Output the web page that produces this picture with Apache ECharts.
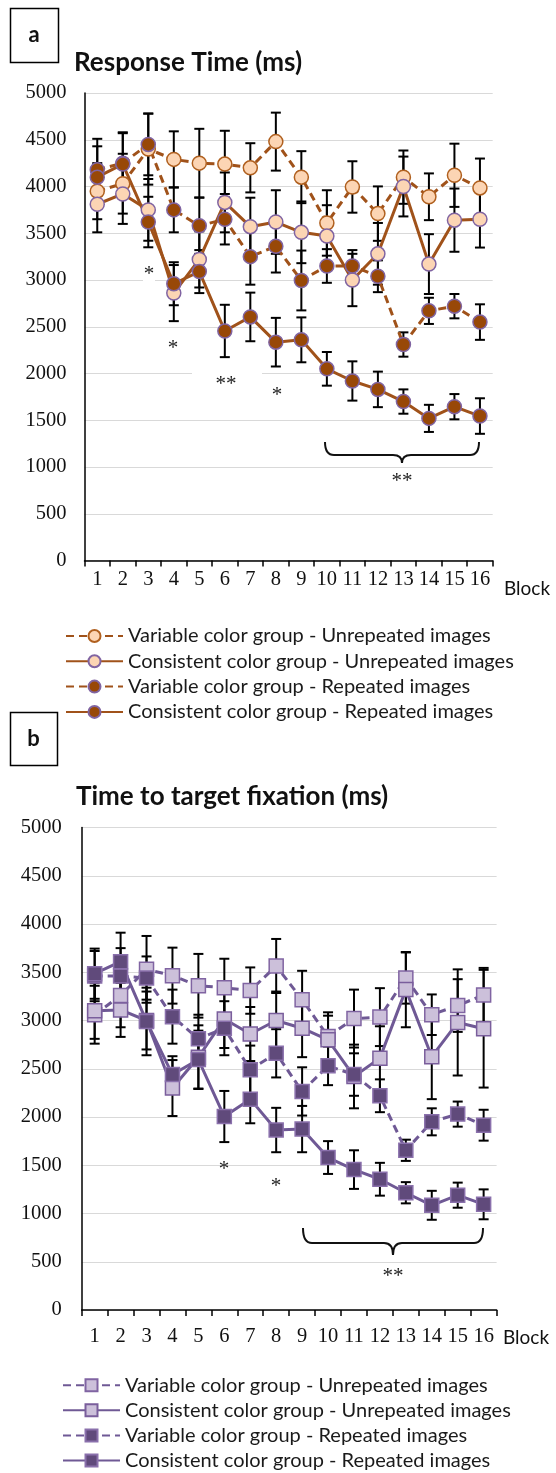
<!DOCTYPE html>
<html>
<head>
<meta charset="utf-8">
<script src="https://cdn.jsdelivr.net/npm/echarts@6/dist/echarts.min.js"></script>
<style>
  html, body { margin: 0; padding: 0; background: #fff; }
  #chart { width: 556px; height: 1473px; }
</style>
</head>
<body>
<div id="chart"></div>
<script>
const blocks = ['1','2','3','4','5','6','7','8','9','10','11','12','13','14','15','16']
const yTicks = [0, 5000, 500] // min, max, step

const seriesNames = [
  'Variable color group - Unrepeated images',
  'Consistent color group - Unrepeated images',
  'Variable color group - Repeated images',
  'Consistent color group - Repeated images'
]

// a: response time (ms)
const rtVarUnrep = [3950, 4030, 4400, 4290, 4250, 4240, 4200, 4480, 4100, 3610, 3995, 3710, 4100, 3890, 4120, 3985]
const rtConUnrep = [3810, 3920, 3750, 2860, 3220, 3830, 3570, 3620, 3510, 3470, 3000, 3280, 4000, 3170, 3640, 3650]
const rtVarRep   = [4180, 4250, 4450, 3750, 3580, 3650, 3250, 3360, 2995, 3150, 3150, 3040, 2310, 2670, 2720, 2550]
const rtConRep   = [4100, 4240, 3620, 2960, 3090, 2455, 2605, 2335, 2360, 2050, 1920, 1830, 1700, 1520, 1645, 1545]
const rtVarUnrepErr = [300, 320, 380, 300, 367, 356, 263, 310, 278, 350, 275, 291, 285, 250, 338, 314]
const rtConUnrepErr = [300, 320, 330, 300, 300, 320, 310, 340, 330, 330, 280, 330, 320, 320, 338, 303]
const rtVarRepErr   = [330, 330, 330, 240, 300, 270, 300, 280, 320, 180, 170, 170, 130, 140, 130, 190]
const rtConRepErr   = [330, 330, 270, 230, 230, 280, 260, 260, 240, 180, 210, 190, 130, 145, 135, 190]

// b: time to target fixation (ms)
const ttVarUnrep = [3060, 3260, 3530, 3465, 3360, 3340, 3310, 3565, 3215, 2835, 3020, 3035, 3440, 3060, 3155, 3265]
const ttConUnrep = [3100, 3110, 3000, 2300, 2620, 3015, 2860, 3000, 2920, 2800, 2420, 2610, 3320, 2625, 2980, 2915]
const ttVarRep   = [3460, 3460, 3440, 3040, 2810, 2920, 2490, 2660, 2265, 2530, 2440, 2220, 1655, 1950, 2030, 1915]
const ttConRep   = [3485, 3610, 2990, 2440, 2595, 2005, 2185, 1865, 1875, 1580, 1455, 1355, 1215, 1085, 1190, 1095]
const ttVarUnrepErr = [300, 330, 346, 290, 330, 300, 240, 280, 300, 250, 300, 300, 265, 210, 273, 280]
const ttConUnrepErr = [290, 280, 300, 290, 330, 300, 280, 300, 300, 250, 330, 330, 390, 440, 550, 610]
const ttVarRepErr   = [260, 290, 224, 280, 250, 280, 250, 250, 250, 200, 220, 170, 110, 140, 130, 160]
const ttConRepErr   = [260, 300, 350, 190, 300, 265, 250, 230, 240, 170, 200, 170, 110, 150, 130, 155]

const SERIF = '"Liberation Serif", serif'
const SANS = 'Lato, "Open Sans", sans-serif'

const brown = { line: '#A0521A', light: '#FCD5B4', dark: '#984807', edgeVar: '#B0601F', edgeCon: '#8064A2', edgeDark: '#8064A2' }
const purple = { line: '#6F5995', light: '#CCC0DA', dark: '#604A7B', edgeVar: '#8064A2', edgeCon: '#7A5E9C', edgeDark: '#8A70AC' }

function errorBars (vals, errs, axis) {
  return {
    type: 'custom',
    xAxisIndex: axis,
    yAxisIndex: axis,
    z: 1,
    silent: true,
    data: vals.map((v, i) => [i, v, errs[i]]),
    encode: { x: 0, y: 1 },
    renderItem: function (params, api) {
      const x = api.value(0), v = api.value(1), e = api.value(2)
      const hi = api.coord([x, v + e])
      const lo = api.coord([x, v - e])
      const st = { stroke: '#000', lineWidth: 2 }
      const w = 5
      return {
        type: 'group',
        children: [
          { type: 'line', shape: { x1: hi[0], y1: hi[1], x2: lo[0], y2: lo[1] }, style: st },
          { type: 'line', shape: { x1: hi[0] - w, y1: hi[1], x2: hi[0] + w, y2: hi[1] }, style: st },
          { type: 'line', shape: { x1: lo[0] - w, y1: lo[1], x2: lo[0] + w, y2: lo[1] }, style: st }
        ]
      }
    }
  }
}

function lineSeries (prefix, idx, vals, axis, pal, symbol, size) {
  const dashed = idx % 2 === 0
  const repeated = idx >= 2
  return {
    name: prefix + seriesNames[idx],
    type: 'line',
    xAxisIndex: axis,
    yAxisIndex: axis,
    data: vals,
    symbol: symbol,
    symbolSize: size,
    z: 3,
    lineStyle: { color: pal.line, width: 3, type: dashed ? [8, 5] : 'solid' },
    itemStyle: {
      color: repeated ? pal.dark : pal.light,
      borderColor: repeated ? pal.edgeDark : (dashed ? pal.edgeVar : pal.edgeCon),
      borderWidth: 1.5
    }
  }
}

function xAxis (grid, margin) {
  return {
    type: 'category',
    gridIndex: grid,
    data: blocks,
    boundaryGap: true,
    axisLine: { lineStyle: { color: '#000', width: 1.5 } },
    axisTick: { show: true, length: 6, lineStyle: { color: '#000', width: 1.5 } },
    axisLabel: { interval: 0, margin: margin, color: '#111', fontFamily: SERIF, fontSize: 20.5 },
    splitLine: { show: false }
  }
}

function yAxis (grid, margin) {
  return {
    type: 'value',
    gridIndex: grid,
    min: yTicks[0],
    max: yTicks[1],
    interval: yTicks[2],
    axisLine: { show: true, lineStyle: { color: '#000', width: 1.5 } },
    axisTick: { show: false },
    axisLabel: { margin: margin, color: '#111', fontFamily: SERIF, fontSize: 20.5, formatter: v => String(v) },
    splitLine: { lineStyle: { color: '#D9D9D9', width: 1 } }
  }
}

function legend (prefix, pos, gap, lh) {
  return Object.assign({
    data: seriesNames.map(n => prefix + n),
    orient: 'vertical',
    padding: 0,
    itemWidth: 57,
    itemHeight: 15,
    itemGap: gap,
    selectedMode: false,
    formatter: n => n.slice(prefix.length),
    textStyle: { fontFamily: SANS, fontSize: 20, lineHeight: lh, color: '#1a1a1a' }
  }, pos)
}

function txt (x, y, text, size, extra) {
  return {
    type: 'text', x: x, y: y, z: 10,
    style: Object.assign({ text: text, fill: '#111', fontFamily: SANS, fontSize: size, verticalAlign: 'middle' }, extra || {})
  }
}

function star (x, y, text) {
  return {
    type: 'text', x: x, y: y, z: 10,
    style: { text: text, fill: '#222', fontFamily: SERIF, fontSize: 21, align: 'center', verticalAlign: 'middle' }
  }
}

// curly brace under the later blocks, built from curves and lines
function brace (x1, x2, yTop, yLine, yTip) {
  const m = (x1 + x2) / 2
  const r = 9
  const st = { stroke: '#111', lineWidth: 2, fill: null }
  const curve = (ax, ay, cx, cy, bx, by) => ({
    type: 'bezierCurve', z: 10, shape: { x1: ax, y1: ay, cpx1: cx, cpy1: cy, x2: bx, y2: by }, style: st
  })
  const seg = (ax, ay, bx, by) => ({ type: 'line', z: 10, shape: { x1: ax, y1: ay, x2: bx, y2: by }, style: st })
  return [
    curve(x1, yTop, x1, yLine, x1 + r, yLine),
    seg(x1 + r, yLine, m - r, yLine),
    curve(m - r, yLine, m, yLine, m, yTip),
    curve(m, yTip, m, yLine, m + r, yLine),
    seg(m + r, yLine, x2 - r, yLine),
    curve(x2 - r, yLine, x2, yLine, x2, yTop)
  ]
}

const chart = echarts.init(document.getElementById('chart'), null, { renderer: 'canvas' })

const option = {
  animation: false,
  backgroundColor: '#fff',
  grid: [
    { left: 84.5, top: 93, width: 408.2, height: 467.5 },
    { left: 81.7, top: 827.5, width: 414.9, height: 482.5 }
  ],
  xAxis: [xAxis(0, 9), xAxis(1, 16)],
  yAxis: [yAxis(0, 18), yAxis(1, 20)],
  legend: [
    legend('a:', { left: 65, top: 626 }, 5.3, 19),
    legend('b:', { left: 62, bottom: 2.5 }, 5.1, 17)
  ],
  series: [
    errorBars(rtVarUnrep, rtVarUnrepErr, 0),
    errorBars(rtConUnrep, rtConUnrepErr, 0),
    errorBars(rtVarRep, rtVarRepErr, 0),
    errorBars(rtConRep, rtConRepErr, 0),
    lineSeries('a:', 0, rtVarUnrep, 0, brown, 'circle', 14),
    lineSeries('a:', 1, rtConUnrep, 0, brown, 'circle', 14),
    lineSeries('a:', 2, rtVarRep, 0, brown, 'circle', 14),
    lineSeries('a:', 3, rtConRep, 0, brown, 'circle', 14),

    errorBars(ttVarUnrep, ttVarUnrepErr, 1),
    errorBars(ttConUnrep, ttConUnrepErr, 1),
    errorBars(ttVarRep, ttVarRepErr, 1),
    errorBars(ttConRep, ttConRepErr, 1),
    lineSeries('b:', 0, ttVarUnrep, 1, purple, 'rect', 14),
    lineSeries('b:', 1, ttConUnrep, 1, purple, 'rect', 14),
    lineSeries('b:', 2, ttVarRep, 1, purple, 'rect', 14),
    lineSeries('b:', 3, ttConRep, 1, purple, 'rect', 14)
  ],
  graphic: [
    // panel a
    { type: 'rect', z: 10, shape: { x: 10.5, y: 8.5, width: 48, height: 54 }, style: { stroke: '#000', lineWidth: 1.5, fill: '#fff' } },
    txt(34, 35, 'a', 22, { fontWeight: 'bold', align: 'center' }),
    txt(74, 63, 'Response Time (ms)', 26, { fontWeight: 'bold' }),
    txt(504, 589, 'Block', 19),
    { type: 'rect', z: 9, shape: { x: 143, y: 262, width: 12, height: 22 }, style: { fill: '#fff' } },
    { type: 'rect', z: 9, shape: { x: 192, y: 368, width: 70, height: 22 }, style: { fill: '#fff' } },
    star(149, 274, '*'),
    star(173, 348, '*'),
    star(226, 384, '**'),
    star(277, 395, '*'),
    ...brace(325, 479, 442, 455, 463),
    star(402, 481, '**'),

    // panel b
    { type: 'rect', z: 10, shape: { x: 10.5, y: 712.5, width: 47, height: 53 }, style: { stroke: '#000', lineWidth: 1.5, fill: '#fff' } },
    txt(33.5, 739, 'b', 22, { fontWeight: 'bold', align: 'center' }),
    txt(76, 797, 'Time to target fixation (ms)', 26, { fontWeight: 'bold' }),
    txt(503, 1338, 'Block', 19),
    star(224, 1169, '*'),
    star(276, 1186, '*'),
    ...brace(303, 483, 1228, 1243, 1255),
    star(393, 1276, '**')
  ]
}

chart.setOption(option)
</script>
</body>
</html>
